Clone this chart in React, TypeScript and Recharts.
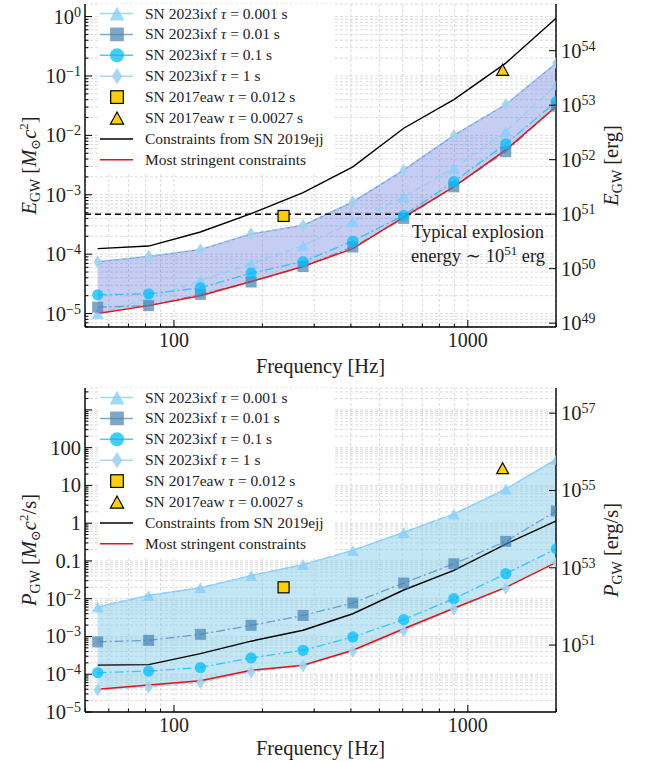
import React from "react";
import {
  ComposedChart,
  Line,
  Area,
  Scatter,
  XAxis,
  YAxis,
  CartesianGrid,
  ReferenceLine,
  Legend,
} from "recharts";

const SERIF = '"Liberation Serif", "DejaVu Serif", serif';

// frequencies of the SN 2023ixf points [Hz]
const FREQ = [55, 82, 123, 183, 275, 406, 605, 896, 1346, 2000];

// E_GW upper limits [Msun c^2]
const E_TAU_0001 = [1.0e-5, 1.8e-5, 3.6e-5, 6.9e-5, 1.4e-4, 3.5e-4, 9.2e-4, 2.8e-3, 1.16e-2, 7.1e-2];
const E_TAU_001 = [1.28e-5, 1.36e-5, 2.1e-5, 3.4e-5, 6.2e-5, 1.32e-4, 4.0e-4, 1.36e-3, 5.3e-3, 3.1e-2];
const E_TAU_01 = [2.07e-5, 2.15e-5, 2.7e-5, 4.8e-5, 7.5e-5, 1.66e-4, 4.5e-4, 1.66e-3, 7.2e-3, 3.7e-2];
const E_TAU_1 = [7.4e-5, 9.2e-5, 1.19e-4, 2.2e-4, 3.06e-4, 7.6e-4, 2.6e-3, 1.0e-2, 3.3e-2, 0.165];
const E_2019EJJ = [1.24e-4, 1.37e-4, 2.36e-4, 4.8e-4, 1.09e-3, 2.95e-3, 1.32e-2, 4.0e-2, 0.165, 0.95];
const E_STRINGENT = [1.0e-5, 1.36e-5, 2.0e-5, 3.46e-5, 6.2e-5, 1.24e-4, 4.2e-4, 1.36e-3, 5.7e-3, 3.1e-2];

// P_GW upper limits [Msun c^2 / s]
const P_TAU_0001 = [6.0e-3, 1.22e-2, 1.95e-2, 4.1e-2, 8.0e-2, 0.19, 0.57, 1.75, 8.0, 49];
const P_TAU_001 = [7.2e-4, 7.9e-4, 1.14e-3, 1.97e-3, 3.6e-3, 7.7e-3, 2.6e-2, 8.4e-2, 0.33, 2.1];
const P_TAU_01 = [1.11e-4, 1.21e-4, 1.51e-4, 2.7e-4, 4.3e-4, 9.7e-4, 2.8e-3, 1.0e-2, 4.6e-2, 0.21];
const P_TAU_1 = [3.8e-5, 4.6e-5, 6.0e-5, 1.15e-4, 1.65e-4, 4.0e-4, 1.4e-3, 5.3e-3, 1.9e-2, 9.0e-2];
const P_2019EJJ = [1.74e-4, 1.8e-4, 3.5e-4, 7.5e-4, 1.46e-3, 4.0e-3, 1.7e-2, 5.6e-2, 0.28, 1.16];
const P_STRINGENT = [4.0e-5, 5.2e-5, 6.7e-5, 1.28e-4, 1.74e-4, 4.3e-4, 1.6e-3, 5.6e-3, 2.0e-2, 9.2e-2];

// SN 2017eaw (tau = 0.012 s square, tau = 0.0027 s triangle)
const EAW_FREQ = [236, 1313];
const E_EAW = [4.4e-4, 0.127];
const P_EAW = [2.0e-2, 28.6];

// typical explosion energy ~1e51 erg, in Msun c^2
const E_EXPLOSION = 4.7e-4;

const X_DOMAIN: [number, number] = [49.8, 1995];
const X_LABELED = [100, 1000];

const C_T0001 = "#87cefa";
const C_T001 = "#4682b4";
const C_T01 = "#00bfff";
const C_T1 = "#9fd4ef";
const C_EAW = "#ffd000";

type Kind = "tri" | "sq" | "circ" | "dia";

const TAU_SERIES: { key: string; tau: string; kind: Kind; color: string; dash: string; op: number }[] = [
  { key: "t0001", tau: "0.001", kind: "tri", color: C_T0001, dash: "7 4", op: 0.8 },
  { key: "t001", tau: "0.01", kind: "sq", color: C_T001, dash: "9 3 2 3", op: 0.7 },
  { key: "t01", tau: "0.1", kind: "circ", color: C_T01, dash: "9 3 2 3", op: 0.75 },
  { key: "t1", tau: "1", kind: "dia", color: C_T1, dash: "4 3", op: 0.9 },
];

function logTicks(lo: number, hi: number) {
  const out: number[] = [];
  for (let k = Math.floor(Math.log10(lo)); k <= Math.ceil(Math.log10(hi)); k++) {
    for (let m = 1; m <= 9; m++) {
      const v = Number((m * Math.pow(10, k)).toPrecision(3));
      if (v >= lo && v <= hi) out.push(v);
    }
  }
  return out;
}

const isDecade = (v: number) => Math.abs(Math.log10(v) - Math.round(Math.log10(v))) < 1e-6;

function buildRows(a: number[], b: number[], c: number[], d: number[], ejj: number[], strict: number[]) {
  return FREQ.map((f, i) => {
    const taus = [a[i], b[i], c[i], d[i]];
    const lo = Math.min(...taus);
    const hi = Math.max(...taus);
    return {
      f,
      t0001: a[i],
      t001: b[i],
      t01: c[i],
      t1: d[i],
      ejj: ejj[i],
      strict: strict[i],
      band: [lo, hi],
      bandHi: hi,
    };
  });
}

function Marker({ kind, cx, cy, fill, op = 1, stroke, scale = 1 }: any) {
  const common = { fill, fillOpacity: op, stroke: stroke || "none", strokeWidth: stroke ? 1.2 : 0 };
  if (kind === "tri") {
    const w = 12 * scale;
    const h = 11 * scale;
    return <polygon points={`${cx},${cy - h / 2} ${cx - w / 2},${cy + h / 2} ${cx + w / 2},${cy + h / 2}`} {...common} />;
  }
  if (kind === "sq") {
    const s = 11 * scale;
    return <rect x={cx - s / 2} y={cy - s / 2} width={s} height={s} {...common} />;
  }
  if (kind === "circ") return <circle cx={cx} cy={cy} r={5.6 * scale} {...common} />;
  const w = 8.5 * scale;
  const h = 13 * scale;
  return <polygon points={`${cx},${cy - h / 2} ${cx + w / 2},${cy} ${cx},${cy + h / 2} ${cx - w / 2},${cy}`} {...common} />;
}

function Pow({ exp }: { exp: number }) {
  return (
    <>
      <tspan>10</tspan>
      <tspan dy={-7} fontSize={14}>
        {exp < 0 ? "\u2212" + -exp : String(exp)}
      </tspan>
    </>
  );
}

function LegendBox() {
  const rowH = 20.9;
  const y0 = 9.5;
  const txt = { fontFamily: SERIF, fontSize: 15.5, fill: "#222" };
  return (
    <svg width={234} height={168} style={{ display: "block", background: "#fff" }}>
      {TAU_SERIES.map((s, i) => {
        const y = y0 + i * rowH;
        return (
          <g key={s.key}>
            <line x1={0} x2={33} y1={y} y2={y} stroke={s.color} strokeOpacity={s.op} strokeWidth={1.5} />
            <Marker kind={s.kind} cx={17} cy={y} fill={s.color} op={s.op} scale={1.25} />
            <text x={45} y={y + 5} {...txt}>
              SN 2023ixf <tspan fontStyle="italic">τ</tspan> = {s.tau} s
            </text>
          </g>
        );
      })}
      <Marker kind="sq" cx={17} cy={y0 + 4 * rowH} fill={C_EAW} stroke="#000" scale={1.15} />
      <text x={45} y={y0 + 4 * rowH + 5} {...txt}>
        SN 2017eaw <tspan fontStyle="italic">τ</tspan> = 0.012 s
      </text>
      <Marker kind="tri" cx={17} cy={y0 + 5 * rowH} fill={C_EAW} stroke="#000" scale={1.1} />
      <text x={45} y={y0 + 5 * rowH + 5} {...txt}>
        SN 2017eaw <tspan fontStyle="italic">τ</tspan> = 0.0027 s
      </text>
      <line x1={0} x2={33} y1={y0 + 6 * rowH} y2={y0 + 6 * rowH} stroke="#000" strokeWidth={1.5} />
      <text x={45} y={y0 + 6 * rowH + 5} {...txt}>
        Constraints from SN 2019ejj
      </text>
      <line x1={0} x2={33} y1={y0 + 7 * rowH} y2={y0 + 7 * rowH} stroke="#e8130f" strokeWidth={1.5} />
      <text x={45} y={y0 + 7 * rowH + 5} {...txt}>
        Most stringent constraints
      </text>
    </svg>
  );
}

const bottomXTick = (p: any) => {
  const v = p.payload.value;
  const major = X_LABELED.includes(v);
  return (
    <g>
      <line x1={p.x} x2={p.x} y1={p.y} y2={p.y - (major ? 7 : 3.5)} stroke="#000" strokeWidth={1} />
      {major && (
        <text x={p.x} y={p.y + 20} textAnchor="middle" fontFamily={SERIF} fontSize={20} fill="#222">
          {v}
        </text>
      )}
    </g>
  );
};

const topXTick = (p: any) => {
  const major = X_LABELED.includes(p.payload.value);
  return <line x1={p.x} x2={p.x} y1={p.y} y2={p.y + (major ? 7 : 3.5)} stroke="#000" strokeWidth={1} />;
};

function makeYTick(side: "left" | "right", label: (v: number) => React.ReactNode) {
  return (p: any) => {
    const v = p.payload.value;
    const major = isDecade(v);
    const len = major ? 7 : 3.5;
    const dir = side === "left" ? 1 : -1;
    const content = major ? label(v) : null;
    return (
      <g>
        <line x1={p.x} x2={p.x + dir * len} y1={p.y} y2={p.y} stroke="#000" strokeWidth={1} />
        {content !== null && (
          <text
            x={side === "left" ? p.x - 4 : p.x + 5}
            y={p.y + 7}
            textAnchor={side === "left" ? "end" : "start"}
            fontFamily={SERIF}
            fontSize={20.5}
            fill="#222"
          >
            {content}
          </text>
        )}
      </g>
    );
  };
}

const vTitle = (dx: number, children: React.ReactNode) => (props: any) => {
  const vb = props.viewBox;
  const cx = vb.x + dx;
  const cy = vb.y + vb.height / 2;
  return (
    <text x={cx} y={cy} transform={`rotate(-90 ${cx} ${cy})`} textAnchor="middle" fontFamily={SERIF} fontSize={20.5} fill="#222">
      {children}
    </text>
  );
};

const xTitle = (dy: number) => (props: any) => {
  const vb = props.viewBox;
  return (
    <text x={vb.x + vb.width / 2} y={vb.y + dy} textAnchor="middle" fontFamily={SERIF} fontSize={20.5} fill="#222">
      Frequency [Hz]
    </text>
  );
};

const gw = (sym: string) => (
  <>
    <tspan fontStyle="italic">{sym}</tspan>
    <tspan fontSize={14} dy={4}>
      GW
    </tspan>
  </>
);

const explosionLabel = (props: any) => {
  const vb = props.viewBox;
  const cx = vb.x + vb.width - 78;
  return (
    <g fontFamily={SERIF} fontSize={18.5} fill="#222">
      <text x={cx} y={vb.y + 24} textAnchor="middle">
        Typical explosion
      </text>
      <text x={cx} y={vb.y + 48} textAnchor="middle">
        energy ∼ 10<tspan dy={-7} fontSize={13}>51</tspan>
        <tspan dy={7}> erg</tspan>
      </text>
    </g>
  );
};

interface PanelProps {
  height: number;
  marginTop: number;
  xAxisH: number;
  titleDy: number;
  rows: ReturnType<typeof buildRows>;
  eaw: number[];
  yDomain: [number, number];
  yLabel: (v: number) => React.ReactNode;
  rDomain: [number, number];
  rTicks: number[];
  leftTitle: React.ReactNode;
  rightTitle: React.ReactNode;
  bandFill: string;
  bandOpacity: number;
  bandStroke: string;
  explosion?: number;
}

function Panel(props: PanelProps) {
  const { rows, eaw } = props;
  const sq = [{ f: EAW_FREQ[0], v: eaw[0] }];
  const tri = [{ f: EAW_FREQ[1], v: eaw[1] }];
  const xTicks = logTicks(50, 2000);
  return (
    <ComposedChart
      width={646}
      height={props.height}
      data={rows}
      margin={{ top: props.marginTop, right: 0, bottom: 0, left: 0 }}
    >
      <CartesianGrid xAxisId="b" yAxisId="l" stroke="#cdcdcd" strokeDasharray="3 2" strokeWidth={0.7} />
      <XAxis
        xAxisId="b"
        dataKey="f"
        type="number"
        scale="log"
        domain={X_DOMAIN}
        allowDataOverflow
        ticks={xTicks}
        interval={0}
        tick={bottomXTick}
        tickLine={false}
        tickSize={0}
        tickMargin={0}
        height={props.xAxisH}
        axisLine={{ stroke: "#000", strokeWidth: 1.4 }}
        label={{ content: xTitle(props.titleDy) }}
      />
      <XAxis
        xAxisId="t"
        orientation="top"
        type="number"
        scale="log"
        domain={X_DOMAIN}
        allowDataOverflow
        ticks={xTicks}
        interval={0}
        tick={topXTick}
        tickLine={false}
        tickSize={0}
        tickMargin={0}
        height={0}
        axisLine={{ stroke: "#000", strokeWidth: 1.4 }}
      />
      <YAxis
        yAxisId="l"
        type="number"
        scale="log"
        domain={props.yDomain}
        allowDataOverflow
        ticks={logTicks(props.yDomain[0], props.yDomain[1])}
        interval={0}
        tick={makeYTick("left", props.yLabel)}
        tickLine={false}
        tickSize={0}
        tickMargin={0}
        width={85}
        axisLine={{ stroke: "#000", strokeWidth: 1.4 }}
        label={{ content: vTitle(36, props.leftTitle) }}
      />
      <YAxis
        yAxisId="r"
        orientation="right"
        type="number"
        scale="log"
        domain={props.rDomain}
        allowDataOverflow
        ticks={props.rTicks}
        interval={0}
        tick={makeYTick("right", (v) => <Pow exp={Math.round(Math.log10(v))} />)}
        tickLine={false}
        tickSize={0}
        tickMargin={0}
        width={90}
        axisLine={{ stroke: "#000", strokeWidth: 1.4 }}
        label={{ content: vTitle(62, props.rightTitle) }}
      />
      <Area
        xAxisId="b"
        yAxisId="l"
        dataKey="band"
        type="linear"
        fill={props.bandFill}
        fillOpacity={props.bandOpacity}
        stroke="none"
        isAnimationActive={false}
        activeDot={false}
      />
      <Line
        xAxisId="b"
        yAxisId="l"
        dataKey="bandHi"
        type="linear"
        stroke={props.bandStroke}
        strokeWidth={1.3}
        dot={false}
        activeDot={false}
        isAnimationActive={false}
      />
      {TAU_SERIES.map((s) => (
        <Line
          key={s.key}
          xAxisId="b"
          yAxisId="l"
          dataKey={s.key}
          type="linear"
          stroke={s.color}
          strokeOpacity={s.op}
          strokeWidth={1.3}
          strokeDasharray={s.dash}
          dot={(d: any) => <Marker key={`${s.key}-${d.index}`} kind={s.kind} cx={d.cx} cy={d.cy} fill={s.color} op={s.op} />}
          activeDot={false}
          isAnimationActive={false}
        />
      ))}
      <Line xAxisId="b" yAxisId="l" dataKey="ejj" type="linear" stroke="#000" strokeWidth={1.4} dot={false} activeDot={false} isAnimationActive={false} />
      <Line xAxisId="b" yAxisId="l" dataKey="strict" type="linear" stroke="#e8130f" strokeWidth={1.5} dot={false} activeDot={false} isAnimationActive={false} />
      {props.explosion !== undefined && (
        <ReferenceLine
          xAxisId="b"
          yAxisId="l"
          y={props.explosion}
          stroke="#000"
          strokeWidth={1.3}
          strokeDasharray="6 4"
          label={{ content: explosionLabel }}
        />
      )}
      <Scatter
        xAxisId="b"
        yAxisId="l"
        data={sq}
        dataKey="v"
        isAnimationActive={false}
        shape={(d: any) => <Marker kind="sq" cx={d.cx} cy={d.cy} fill={C_EAW} stroke="#000" />}
      />
      <Scatter
        xAxisId="b"
        yAxisId="l"
        data={tri}
        dataKey="v"
        isAnimationActive={false}
        shape={(d: any) => <Marker kind="tri" cx={d.cx} cy={d.cy} fill={C_EAW} stroke="#000" />}
      />
      <Legend
        layout="vertical"
        verticalAlign="middle"
        align="center"
        content={() => <LegendBox />}
        wrapperStyle={{ left: 100, top: props.marginTop, width: 234 }}
      />
    </ComposedChart>
  );
}

const E_ROWS = buildRows(E_TAU_0001, E_TAU_001, E_TAU_01, E_TAU_1, E_2019EJJ, E_STRINGENT);
const P_ROWS = buildRows(P_TAU_0001, P_TAU_001, P_TAU_01, P_TAU_1, P_2019EJJ, P_STRINGENT);

export default function App() {
  return (
    <div style={{ position: "absolute", left: 0, top: 0, width: 646, height: 763, background: "#fff" }}>
      <Panel
        height={380}
        marginTop={4}
        xAxisH={53}
        titleDy={46}
        rows={E_ROWS}
        eaw={E_EAW}
        yDomain={[5.94e-6, 1.63]}
        yLabel={(v) => <Pow exp={Math.round(Math.log10(v))} />}
        rDomain={[8.5e48, 7.2e54]}
        rTicks={[1e49, 1e50, 1e51, 1e52, 1e53, 1e54]}
        leftTitle={
          <>
            {gw("E")}
            <tspan dy={-4}> [</tspan>
            <tspan fontStyle="italic">M</tspan>
            <tspan fontSize={13} dy={4}>⊙</tspan>
            <tspan fontStyle="italic" dy={-4}>c</tspan>
            <tspan fontSize={13} dy={-8}>2</tspan>
            <tspan dy={8}>]</tspan>
          </>
        }
        rightTitle={
          <>
            {gw("E")}
            <tspan dy={-4}> [erg]</tspan>
          </>
        }
        bandFill="#5f78dc"
        bandOpacity={0.36}
        bandStroke="#7d99e4"
        explosion={E_EXPLOSION}
      />
      <Panel
        height={383}
        marginTop={8}
        xAxisH={51}
        titleDy={43}
        rows={P_ROWS}
        eaw={P_EAW}
        yDomain={[1e-5, 3800]}
        yLabel={(v) => {
          const e = Math.round(Math.log10(v));
          if (e > 2) return null;
          if (e >= -1) return String(v);
          return <Pow exp={e} />;
        }}
        rDomain={[1.86e49, 4.47e57]}
        rTicks={[1e51, 1e53, 1e55, 1e57]}
        leftTitle={
          <>
            {gw("P")}
            <tspan dy={-4}> [</tspan>
            <tspan fontStyle="italic">M</tspan>
            <tspan fontSize={13} dy={4}>⊙</tspan>
            <tspan fontStyle="italic" dy={-4}>c</tspan>
            <tspan fontSize={13} dy={-8}>2</tspan>
            <tspan dy={8}>/s]</tspan>
          </>
        }
        rightTitle={
          <>
            {gw("P")}
            <tspan dy={-4}> [erg/s]</tspan>
          </>
        }
        bandFill="#87ceeb"
        bandOpacity={0.5}
        bandStroke="#8fd2f7"
      />
    </div>
  );
}
